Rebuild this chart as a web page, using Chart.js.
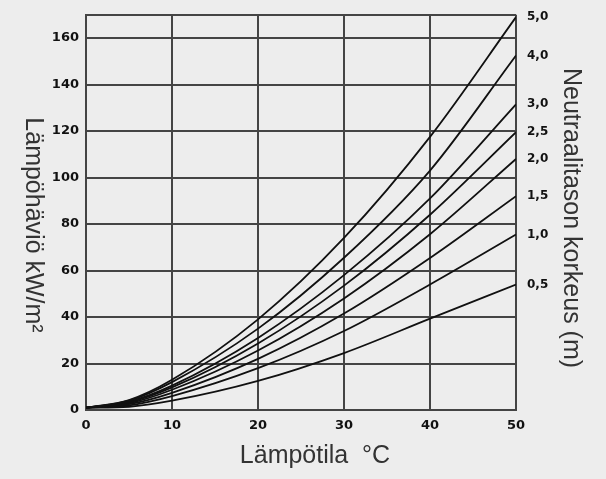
<!DOCTYPE html>
<html>
<head>
<meta charset="utf-8">
<script src="https://cdn.jsdelivr.net/npm/chart.js@4"></script>
<style>
  body { margin: 0; background: #ededed; }
  canvas { display: block; }
</style>
</head>
<body>
<canvas id="heatloss" width="606" height="479"></canvas>
<script>
// temperature difference, °C
var temps = [0, 5, 10, 20, 30, 40, 50];

// heat loss kW/m2 for each neutral plane height
var h50 = [1, 4.3, 13, 39, 74, 117.5, 169];
var h40 = [1, 4, 12, 35, 65.5, 103, 152.5];
var h30 = [1, 3.6, 10.5, 31, 58, 91, 131.5];
var h25 = [1, 3.3, 9.7, 28.6, 53.5, 84, 119.5];
var h20 = [1, 2.9, 8.7, 25.6, 48, 75.6, 108];
var h15 = [1, 2.5, 7.4, 22, 41.5, 65.4, 92];
var h10 = [1, 2, 6, 18, 34, 54, 75.5];
var h05 = [1, 1.4, 4, 12.5, 24.5, 39.3, 54];

var heightLabels = ["5,0", "4,0", "3,0", "2,5", "2,0", "1,5", "1,0", "0,5"];
var series = [h50, h40, h30, h25, h20, h15, h10, h05];

var yTitle = "Lämpöhäviö kW/m²";
var xTitle = "Lämpötila  °C";
var rightTitle = "Neutraalitason korkeus (m)";

var datasets = [];
for (var i = 0; i < series.length; i++) {
  var pts = [];
  for (var j = 0; j < temps.length; j++) {
    pts.push({ x: temps[j], y: series[i][j] });
  }
  datasets.push({
    label: heightLabels[i],
    data: pts,
    borderColor: "#111",
    borderWidth: 1.8,
    pointRadius: 0,
    fill: false,
    cubicInterpolationMode: "monotone"
  });
}

// height labels at curve ends plus the three axis titles
var labelsPlugin = {
  id: "labels",
  afterDraw: function(chart) {
    var ctx = chart.ctx;
    var xs = chart.scales.x, ys = chart.scales.y;
    ctx.save();
    ctx.fillStyle = "#111";
    ctx.font = "bold 12px 'DejaVu Sans'";
    ctx.textAlign = "left";
    ctx.textBaseline = "middle";
    chart.data.datasets.forEach(function(ds) {
      var last = ds.data[ds.data.length - 1];
      ctx.fillText(ds.label, xs.right + 11, ys.getPixelForValue(last.y));
    });

    ctx.fillStyle = "#333";
    ctx.font = "25px 'Liberation Sans', Arial";
    ctx.textAlign = "center";
    ctx.textBaseline = "alphabetic";
    ctx.fillText(xTitle, 315, 463);

    ctx.translate(26, 225);
    ctx.rotate(Math.PI / 2);
    ctx.fillText(yTitle, 0, 0);
    ctx.restore();

    ctx.save();
    ctx.fillStyle = "#333";
    ctx.font = "25px 'Liberation Sans', Arial";
    ctx.textAlign = "center";
    ctx.translate(564, 218);
    ctx.rotate(Math.PI / 2);
    ctx.fillText(rightTitle, 0, 0);
    ctx.restore();
  }
};

var gridColor = "#444";

new Chart(document.getElementById("heatloss"), {
  type: "line",
  data: { datasets: datasets },
  options: {
    responsive: false,
    animation: false,
    layout: { padding: { top: 13, right: 90, bottom: 0, left: 0 } },
    plugins: {
      legend: { display: false },
      tooltip: { enabled: false }
    },
    scales: {
      x: {
        type: "linear",
        min: 0,
        max: 50,
        ticks: { stepSize: 10, padding: 8, color: "#111", font: { family: "DejaVu Sans", weight: "bold", size: 13 } },
        grid: { color: gridColor, lineWidth: 2, drawTicks: false },
        border: { color: gridColor, width: 2 },
        afterFit: function(scale) { scale.height = 69; }
      },
      y: {
        min: 0,
        max: 170,
        ticks: {
          stepSize: 20,
          padding: 7,
          color: "#111",
          font: { family: "DejaVu Sans", weight: "bold", size: 13 },
          callback: function(v) { return v % 20 === 0 ? v : ""; }
        },
        grid: { color: gridColor, lineWidth: 2, drawTicks: false },
        border: { color: gridColor, width: 2 },
        afterFit: function(scale) { scale.width = 86; }
      }
    }
  },
  plugins: [labelsPlugin]
});
</script>
</body>
</html>
